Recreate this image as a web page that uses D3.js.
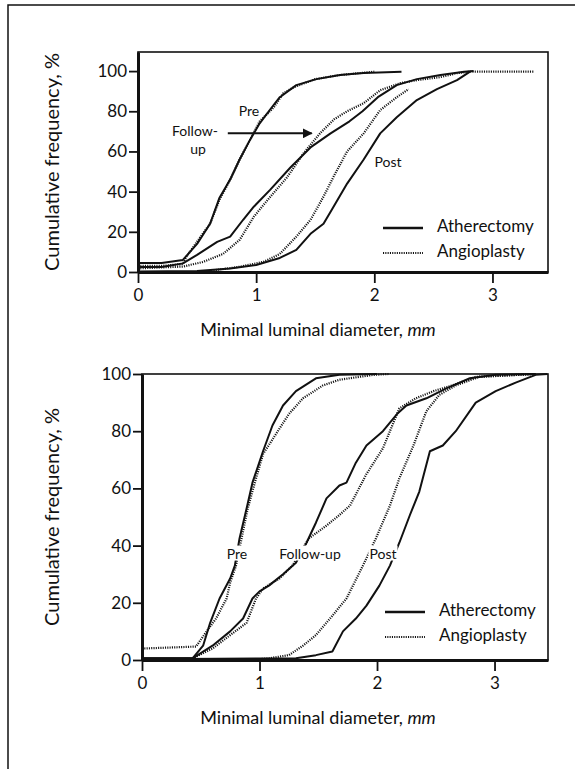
<!DOCTYPE html>
<html>
<head>
<meta charset="utf-8">
<script src="https://cdn.jsdelivr.net/npm/d3@7"></script>
<style>
  body { margin: 0; background: #fff; }
  svg { display: block; }
  text { font-family: Lato, "Open Sans", sans-serif; fill: #111; }
  .tick text { font-size: 17px; }
  .tick line, .domain { stroke: #111; }
</style>
</head>
<body>
<div id="wrapper"></div>
<script>
// ---- data (mm, cumulative %) ----
const xTicks = [0, 1, 2, 3];
const yTicks = [0, 20, 40, 60, 80, 100];
const legendLabels = ["Atherectomy", "Angioplasty"];

// top panel
const topPreAth = [[0,4.5],[0.2,4.5],[0.38,6],[0.5,14],[0.61,24],[0.69,37],[0.78,46],[0.86,56],[0.95,66],[1.03,74],[1.12,81],[1.2,87],[1.34,93],[1.51,96],[1.71,98],[1.91,99],[2.23,99.7]];
const topPreAng = [[0,3],[0.2,3],[0.38,4],[0.41,7.6],[0.53,17.6],[0.61,24],[0.69,36],[0.78,46],[0.86,56],[0.95,66],[1.03,75],[1.15,82],[1.23,89],[1.32,92],[1.5,96],[1.7,98],[2.0,99.7]];
const topFupAth = [[0,2.5],[0.2,2.5],[0.38,4.3],[0.5,8.5],[0.67,15],[0.78,17.6],[0.89,26],[0.98,32.5],[1.12,41],[1.29,52],[1.46,62],[1.63,69],[1.79,75],[1.9,80],[2.03,87],[2.19,93],[2.36,96],[2.56,98],[2.76,99.7],[2.84,100]];
const topFupAng = [[0,1.8],[0.38,2.7],[0.55,5],[0.72,9],[0.86,16],[0.98,27.5],[1.12,37.5],[1.26,47],[1.4,59],[1.54,69],[1.66,76],[1.77,80],[1.91,84],[2.05,90.5],[2.22,94],[2.36,95.5],[2.56,97],[2.7,99],[2.81,99.7],[3.35,99.7]];
const topPostAth = [[0,0.2],[0.5,0.5],[0.78,1.8],[1.0,3.5],[1.2,7],[1.34,11],[1.46,19],[1.57,24],[1.65,32],[1.77,44],[1.91,56],[2.05,69],[2.19,77],[2.36,85.6],[2.53,91],[2.7,95.5],[2.81,99.7]];
const topPostAng = [[0.6,0.5],[0.86,2.6],[1.06,5],[1.2,9],[1.34,17.6],[1.46,26],[1.57,37.5],[1.66,48],[1.77,60],[1.91,69],[2.05,80.6],[2.19,87],[2.29,91]];

// bottom panel
const botPreAth = [[0,0.6],[0.43,0.6],[0.52,5],[0.58,13],[0.66,21.5],[0.75,28.5],[0.79,33],[0.83,42.5],[0.89,53],[0.94,62],[1.03,73],[1.11,82],[1.2,89],[1.31,94],[1.48,98.5],[1.68,99.7],[2.0,100]];
const botPreAng = [[0,4],[0.46,4.7],[0.55,10],[0.63,14.5],[0.72,21.5],[0.75,27],[0.8,33],[0.85,43],[0.9,53],[0.96,62],[1.03,72],[1.14,79],[1.25,86],[1.37,91.5],[1.54,96],[1.68,98],[1.97,99.7],[2.1,100]];
const botFupAth = [[0,0.6],[0.43,0.6],[0.6,5],[0.75,10],[0.86,14.5],[0.94,21.5],[1.0,24],[1.08,26],[1.2,30],[1.31,34],[1.4,41],[1.48,48],[1.57,56.5],[1.68,61],[1.74,62],[1.82,69],[1.91,75],[2.05,80],[2.17,86],[2.25,89],[2.42,91.5],[2.59,95],[2.79,98.5],[3.01,99.7],[3.35,100]];
const botFupAng = [[0.43,0.6],[0.6,4],[0.75,8.7],[0.89,13],[0.97,21.5],[1.03,25],[1.17,28.5],[1.28,33],[1.42,42.5],[1.57,47],[1.68,50.7],[1.77,54],[1.91,65],[2.05,74],[2.19,88],[2.33,91.5],[2.48,94],[2.64,96],[2.84,99],[3.35,100]];
const botPostAth = [[0,0.3],[1.31,0.6],[1.48,1.7],[1.62,3],[1.71,10],[1.82,14.5],[1.91,19],[2.02,26],[2.11,33],[2.19,41],[2.28,50.7],[2.36,58.9],[2.45,73],[2.56,75],[2.67,80],[2.84,90],[3.01,94],[3.18,97],[3.35,99.7],[3.45,100]];
const botPostAng = [[1.0,0.3],[1.08,0.6],[1.25,1.7],[1.37,5],[1.48,8.7],[1.6,14.5],[1.74,21.5],[1.88,33],[1.99,42.5],[2.11,54],[2.19,63.5],[2.31,75],[2.42,87],[2.53,92.7],[2.67,96],[2.87,99],[3.35,100]];

const W = 575, H = 769;
const svg = d3.select("#wrapper").append("svg").attr("width", W).attr("height", H);

// scanned page frame (top and left edge)
svg.append("path")
  .attr("d", `M8,${H} L8,5 L${W},5`)
  .attr("fill", "none").attr("stroke", "#111").attr("stroke-width", 1.5);

const defs = svg.append("defs");
defs.append("marker")
  .attr("id", "arrow").attr("viewBox", "0 0 10 10")
  .attr("refX", 9).attr("refY", 5)
  .attr("markerWidth", 5).attr("markerHeight", 5)
  .attr("orient", "auto")
  .append("path").attr("d", "M0,0 L10,5 L0,10 Z").attr("fill", "#111");

function drawPanel(cfg) {
  const x = d3.scaleLinear().domain([0, cfg.xMax]).range([cfg.left, cfg.right]);
  const y = d3.scaleLinear().domain([0, cfg.yMax]).range([cfg.bottom, cfg.top]);
  const g = svg.append("g");

  // box
  g.append("rect")
    .attr("x", cfg.left).attr("y", cfg.top)
    .attr("width", cfg.right - cfg.left).attr("height", cfg.bottom - cfg.top)
    .attr("fill", "none").attr("stroke", "#111").attr("stroke-width", 1.6);

  const line = d3.line().x(d => x(d[0])).y(d => y(d[1])).curve(d3.curveLinear);

  cfg.series.forEach(s => {
    g.append("path")
      .attr("d", line(s.data))
      .attr("fill", "none")
      .attr("stroke", "#111")
      .attr("stroke-width", s.dotted ? 2.2 : 2)
      .attr("stroke-dasharray", s.dotted ? "1.1,1.2" : null)
      .attr("stroke-linejoin", "round");
  });

  // axes
  const yAxis = g.append("g")
    .attr("transform", `translate(${cfg.left},0)`)
    .call(d3.axisLeft(y).tickValues(yTicks).tickFormat(d3.format("d"))
      .tickSize(9).tickSizeOuter(0).tickPadding(2));
  yAxis.select(".domain").attr("stroke-width", 3);
  yAxis.selectAll(".tick line").attr("stroke-width", 1.8);

  const xAxis = g.append("g")
    .attr("transform", `translate(0,${cfg.bottom})`)
    .call(d3.axisBottom(x).tickValues(xTicks).tickFormat(d3.format("d"))
      .tickSize(11).tickSizeOuter(0).tickPadding(3));
  xAxis.select(".domain").attr("stroke-width", 3);
  xAxis.selectAll(".tick line").attr("stroke-width", 1.8);
  xAxis.selectAll("text").attr("dy", "0.9em");

  // axis titles
  g.append("text")
    .attr("transform", `translate(${cfg.yTitleX},${(cfg.top + cfg.bottom) / 2}) rotate(-90)`)
    .attr("text-anchor", "middle")
    .style("font-size", "20px")
    .text("Cumulative frequency, %");

  const xt = g.append("text")
    .attr("x", cfg.xTitleX).attr("y", cfg.bottom + 64)
    .attr("text-anchor", "middle")
    .style("font-size", "18px");
  xt.append("tspan").text("Minimal luminal diameter, ");
  xt.append("tspan").style("font-style", "italic").text("mm");

  // curve labels
  cfg.labels.forEach(l => {
    const t = g.append("text")
      .attr("x", l.x).attr("y", l.y)
      .attr("text-anchor", "middle")
      .attr("dominant-baseline", "middle")
      .style("font-size", "14px")
      .text(l.text);
    if (cfg.halo) {
      const bb = t.node().getBBox();
      g.insert("rect", () => t.node())
        .attr("x", bb.x - 1).attr("y", bb.y + 1)
        .attr("width", bb.width + 2).attr("height", bb.height - 2)
        .attr("fill", "#fff");
    }
  });

  // legend
  legendLabels.forEach((name, i) => {
    const ly = cfg.legendY + i * 25;
    g.append("line")
      .attr("x1", cfg.legendX).attr("x2", cfg.legendX + 40)
      .attr("y1", ly).attr("y2", ly)
      .attr("stroke", "#111")
      .attr("stroke-width", i ? 2.2 : 2.4)
      .attr("stroke-dasharray", i ? "1.1,1.2" : null);
    g.append("text")
      .attr("x", cfg.legendX + 54).attr("y", ly)
      .attr("dominant-baseline", "middle")
      .style("font-size", "17px")
      .text(name);
  });

  return { g, x, y };
}

// top panel
const topPanel = drawPanel({
  left: 138, right: 548, top: 52, bottom: 272,
  xMax: 3.47, yMax: 109.5,
  yTitleX: 59, xTitleX: 318,
  legendX: 383, legendY: 228,
  halo: false,
  series: [
    { data: topPreAth }, { data: topPreAng, dotted: true },
    { data: topFupAth }, { data: topFupAng, dotted: true },
    { data: topPostAth }, { data: topPostAng, dotted: true }
  ],
  labels: [
    { x: 249, y: 112, text: "Pre" },
    { x: 195, y: 132, text: "Follow-" },
    { x: 198, y: 150, text: "up" },
    { x: 388, y: 163, text: "Post" }
  ]
});

// follow-up arrow
topPanel.g.append("line")
  .attr("x1", topPanel.x(0.76)).attr("x2", topPanel.x(1.47))
  .attr("y1", topPanel.y(69)).attr("y2", topPanel.y(69))
  .attr("stroke", "#111").attr("stroke-width", 2)
  .attr("marker-end", "url(#arrow)");

// bottom panel
drawPanel({
  left: 142, right: 548, top: 374, bottom: 660,
  xMax: 3.455, yMax: 100,
  yTitleX: 59, xTitleX: 318,
  legendX: 385, legendY: 612,
  halo: true,
  series: [
    { data: botPreAth }, { data: botPreAng, dotted: true },
    { data: botFupAth }, { data: botFupAng, dotted: true },
    { data: botPostAth }, { data: botPostAng, dotted: true }
  ],
  labels: [
    { x: 237, y: 555, text: "Pre" },
    { x: 310, y: 555, text: "Follow-up" },
    { x: 383, y: 555, text: "Post" }
  ]
});
</script>
</body>
</html>
